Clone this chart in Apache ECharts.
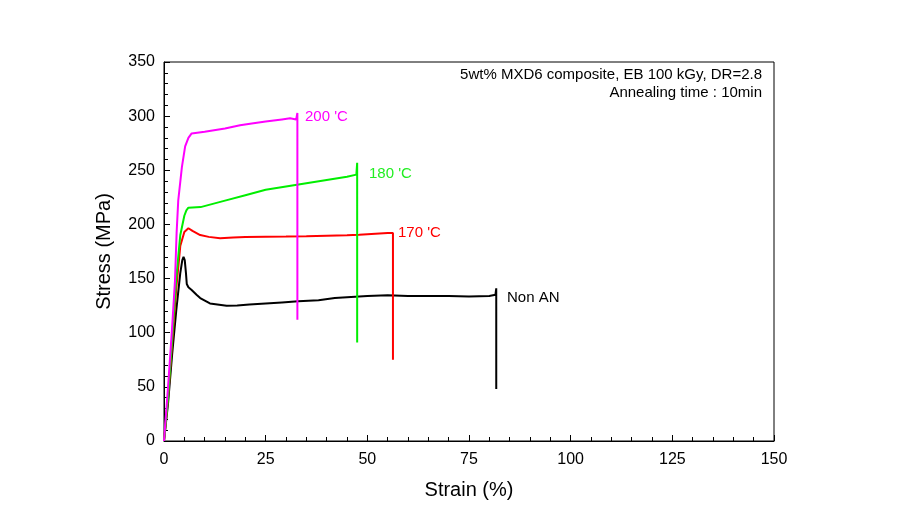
<!DOCTYPE html>
<html><head><meta charset="utf-8">
<script src="https://cdn.jsdelivr.net/npm/echarts@6/dist/echarts.min.js"></script>
<style>html,body{margin:0;padding:0;background:#fff}#c{width:909px;height:532px}</style>
</head><body><div id="c"></div>
<script>
const xTicks = [0,25,50,75,100,125,150];
const yTicks = [0,50,100,150,200,250,300,350];
const seriesNames = ['200 \'C','180 \'C','170 \'C','Non AN'];
const s200 = [[0,0],[1,50],[2,105],[2.7,148],[3.1,192],[3.5,222],[4.4,253],[5.2,272],[6,280],[6.8,284],[10,285.5],[15,288.5],[18.7,291.5],[22,293.5],[25,295],[29,297],[31,298],[32.5,297],[32.8,296],[32.8,303],[32.8,112]];
const s180 = [[0,0],[1,40],[2,95],[3,150],[4,190],[5,208],[5.5,213],[6,215.5],[9,216],[12,219],[15,222],[20,227],[25,232],[30,235],[35,238],[40,241],[45,244],[47.3,246],[47.5,246],[47.5,257],[47.5,91]];
const s170 = [[0,0],[1,40],[2,90],[3,140],[4,180],[5,193],[6,196.5],[7,194],[8.9,190.2],[11,188.5],[13.8,187.2],[17,188],[20,188.5],[25,188.7],[30,188.8],[35,189],[40,189.5],[45,190],[48,190.5],[50,191],[55,192],[56.3,192],[56.3,192.7],[56.3,75]];
const sNon = [[0,0],[1,35],[2,80],[3,120],[4,155],[4.5,167],[4.8,170],[5.1,167],[5.4,155],[5.6,145],[6,142],[6.8,139.5],[8,135],[8.9,132],[11.3,127],[15.4,125],[18,125.2],[21,126],[25,127],[29,128],[33,129],[38,130],[42,132],[46,133],[50,134],[55,134.5],[60,134],[65,134],[70,134],[75,133.5],[80,134],[81.5,135],[81.7,135],[81.7,141],[81.7,48]];
const noteLines = ['5wt% MXD6 composite, EB 100 kGy, DR=2.8','Annealing time : 10min'];

const colors = ['#ff00ff','#00ee00','#ff0000','#000000'];
const textColors = ['#ff00ff','#22ee22','#ff0000','#000000'];
const datas = [s200,s180,s170,sNon];
const labelPos = [[305,117],[369,174],[398,233],[507,298]];

const chart = echarts.init(document.getElementById('c'));
const font = 'Liberation Sans, Arial, sans-serif';
chart.setOption({
  animation:false,
  backgroundColor:'#fff',
  grid:{left:164,right:135,top:62,bottom:91,show:true,borderColor:'#000',borderWidth:1,backgroundColor:'transparent'},
  xAxis:{type:'value',min:0,max:150,interval:25,
    name:'Strain (%)',nameLocation:'middle',nameGap:39,
    nameTextStyle:{fontFamily:font,fontSize:20,color:'#000'},
    axisLine:{show:true,lineStyle:{color:'#000',width:1}},
    axisTick:{show:true,inside:true,length:6,lineStyle:{color:'#000'}},
    minorTick:{show:true,splitNumber:5,length:4,lineStyle:{color:'#000'}},
    splitLine:{show:false},
    axisLabel:{fontFamily:font,fontSize:16,color:'#000',margin:11}},
  yAxis:{type:'value',min:0,max:350,interval:50,
    name:'Stress (MPa)',nameLocation:'middle',nameGap:50,
    nameTextStyle:{fontFamily:font,fontSize:20,color:'#000'},
    axisLine:{show:true,lineStyle:{color:'#000',width:1}},
    axisTick:{show:true,inside:true,length:6,lineStyle:{color:'#000'}},
    minorTick:{show:true,splitNumber:5,length:4,lineStyle:{color:'#000'}},
    splitLine:{show:false},
    axisLabel:{fontFamily:font,fontSize:16,color:'#000',margin:9}},
  series: datas.map((d,i)=>({name:seriesNames[i],type:'line',data:d,showSymbol:false,symbol:'none',
    lineStyle:{color:colors[i],width:2},z:10-i})),
  graphic:[
    ...seriesNames.map((n,i)=>({type:'text',x:labelPos[i][0],y:labelPos[i][1],
      style:{text:n,fill:textColors[i],font:'15px '+font,textAlign:'left',textVerticalAlign:'middle'}})),
    {type:'text',x:762,y:75,style:{text:noteLines[0],fill:'#000',font:'15px '+font,textAlign:'right',textVerticalAlign:'middle'}},
    {type:'text',x:762,y:93,style:{text:noteLines[1],fill:'#000',font:'15px '+font,textAlign:'right',textVerticalAlign:'middle'}}
  ]
});
</script></body></html>
